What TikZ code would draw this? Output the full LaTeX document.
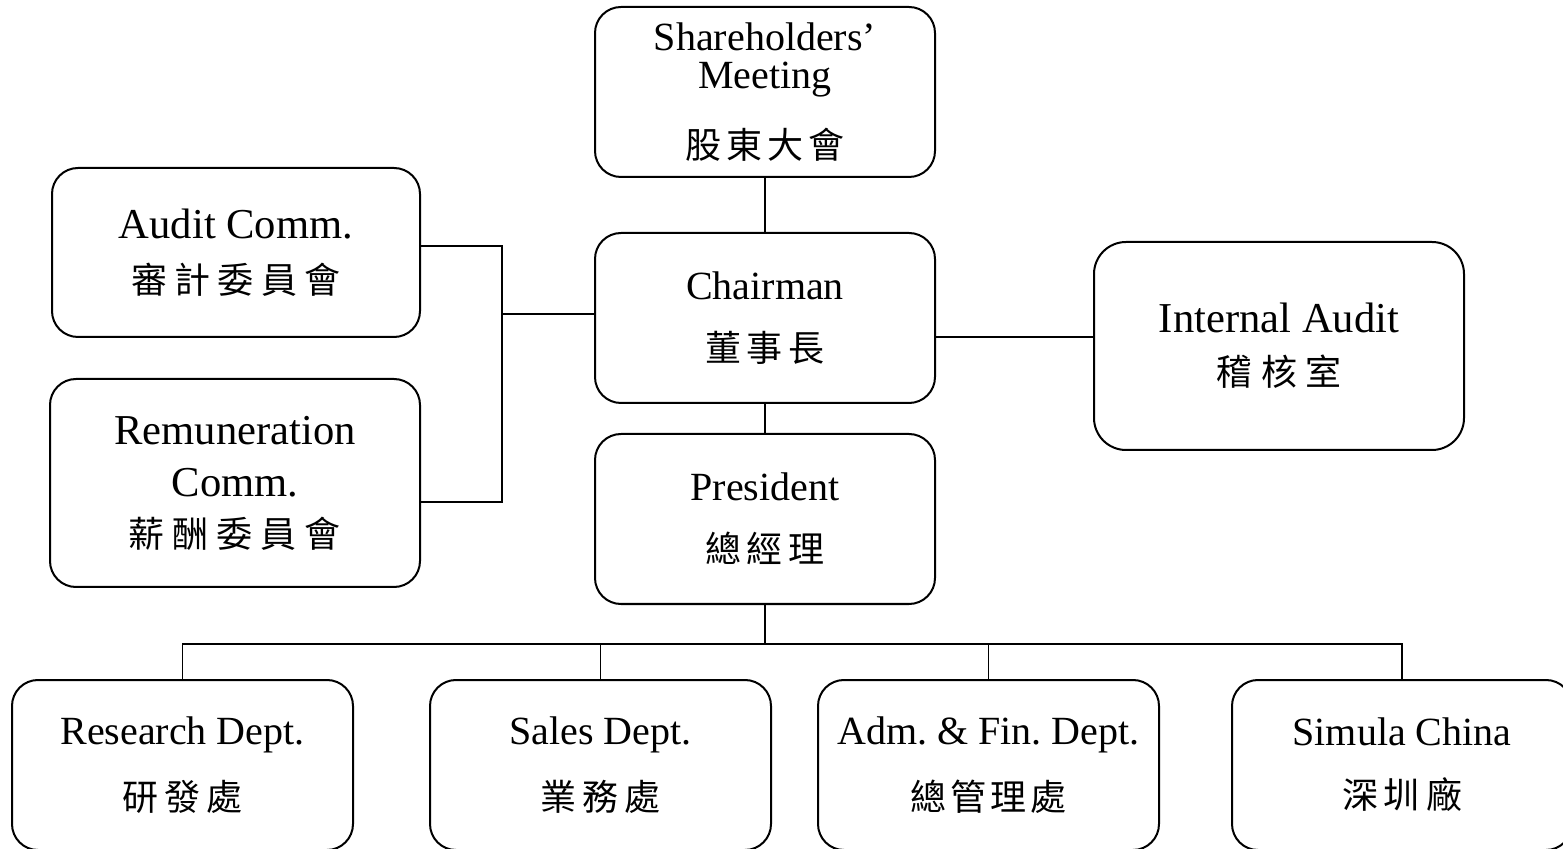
\documentclass[tikz,border=0pt]{standalone}
\usepackage{fontspec}
\setmainfont{Liberation Serif}
\newfontfamily\cjk{Noto Sans CJK TC}
\newcommand\cjt[2]{{\cjk\fontsize{18}{19}\selectfont\def\gp{\kern#1pt}#2}}
\frenchspacing
\begin{document}
\begin{tikzpicture}[x=0.5pt,y=-0.5pt,
  box/.style={draw, line width=1pt, rounded corners=13pt, align=center, inner sep=0pt,
    font=\fontsize{20}{19}\selectfont\frenchspacing},
  big/.style={font=\fontsize{21.3}{19}\selectfont\frenchspacing},
  link/.style={line width=0.8pt}]
\useasboundingbox (0,0) rectangle (1563,849);
\clip (0,0) rectangle (1563,849);
% top column
\node[box, minimum width=170pt, minimum height=85pt] (share) at (765,92)
  {Shareholders’\\Meeting\\[14.5pt]\cjt{2.5}{股\gp 東\gp 大\gp 會}};
\node[box, minimum width=170pt, minimum height=85pt] (chair) at (765,318)
  {Chairman\\[12pt]\cjt{3}{董\gp 事\gp 長}};
\node[box, minimum width=170pt, minimum height=85pt] (pres) at (765,519)
  {President\\[12pt]\cjt{3}{總\gp 經\gp 理}};
% left committees
\node[box, big, minimum width=184pt, minimum height=84.5pt] (audit) at (236,252.5)
  {Audit Comm.\\[8.5pt]\cjt{3.75}{審\gp 計\gp 委\gp 員\gp 會}};
\node[box, big, minimum width=185pt, minimum height=104pt] (remu) at (235,483)
  {Remuneration\\[7pt]Comm.\\[6.5pt]\cjt{4}{薪\gp 酬\gp 委\gp 員\gp 會}};
% right
\node[box, big, rounded corners=16pt, minimum width=185pt, minimum height=104pt] (ia) at (1279,346)
  {Internal Audit\\[7.5pt]\cjt{4.25}{稽\gp 核\gp 室}};
% departments
\node[box, minimum width=170.5pt, minimum height=85pt] (rd) at (182.5,765)
  {Research Dept.\\[12.5pt]\cjt{3}{研\gp 發\gp 處}};
\node[box, minimum width=170.5pt, minimum height=85pt] (sales) at (600.5,765)
  {Sales Dept.\\[12.5pt]\cjt{3}{業\gp 務\gp 處}};
\node[box, minimum width=170.5pt, minimum height=85pt] (adm) at (988.5,765)
  {Adm. \& Fin. Dept.\\[12.5pt]\cjt{2}{總\gp 管\gp 理\gp 處}};
\node[box, minimum width=170pt, minimum height=85pt] (sim) at (1402,765)
  {Simula China\\[12.5pt]\cjt{3}{深\gp 圳\gp 廠}};
% connectors
\coordinate (lj) at (502,314);
\coordinate (bus) at (765,644);
\draw[link] (share) -- (chair);
\draw[link] (chair) -- (pres);
\draw[link] (audit.east |- 0,246) -| (lj);
\draw[link] (remu.east |- 0,502) -| (lj);
\draw[link] (lj) -- (chair.west |- lj);
\draw[link] (chair.east |- 0,337) -- (ia.west |- 0,337);
\draw[link] (pres) -- (bus);
\draw[link] (rd.north) |- (bus);
\draw[link] (sales.north) |- (bus);
\draw[link] (adm.north) |- (bus);
\draw[link] (sim.north) |- (bus);
\end{tikzpicture}
\end{document}
